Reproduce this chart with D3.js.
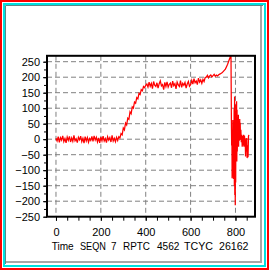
<!DOCTYPE html>
<html>
<head>
<meta charset="utf-8">
<script src="https://cdn.jsdelivr.net/npm/d3@7"></script>
<style>
  html, body { margin: 0; padding: 0; background: #fff; }
  svg { display: block; }
  text { font-family: "Liberation Sans", Arial, sans-serif; }
</style>
</head>
<body>
<svg id="chart" width="269" height="270"></svg>
<script>
// ---------- data ----------
const xMajorTicks = [0, 200, 400, 600, 800];
const yMajorTicks = [-250, -200, -150, -100, -50, 0, 50, 100, 150, 200, 250];
const footerWords = ["Time", "SEQN", "7", "RPTC", "4562", "TCYC", "26162"];

const sampleStep = 5; // regular sampling, values below start at time 0
const baselineValues = [3,-6,8,-10,5,-3,11,-8,2,-12,7,-4,9,-9,4,-7,12,-5,1,-11,6,-2,10,-8,3,-13,8,-6,
  5,-10,2,-4,9,-7,11,-3,6,-9,4,-12,7,-5,10,-6,2,-11,8,-3,5,-9,12,-6,3,-8,6,-4];
const riseValues = [8,4,18,14,36,30,52,46,68,64,88,82,104,100,120,116,134,130,148,144,160,156,170,166,174];
const plateauValues = [178,168,184,171,180,163,186,174,170,182,165,179,188,172,176,160,183,170,185,168,
  177,181,166,187,173,179,162,184,175,170,189,167,180,174,183,165,178,186,171,176,
  190,178,195,182,188,176,197,184,191,180,193,186,199,
  200,206,198,204,207,201,205,209,203,207,204,208,210,
  212,214,218,222,226,234,242,252,262];
const crashTime = [778,780,781,782,783,784,785,786,787,788,789,790,791,792,793,794,795,796,797,798,799,800,
  801,802,804,805,806,807,808,810,812,813,814,815,817,819,820,821,822,824,826,828,830,832,834,836,838,840,
  842,843,845,846,848,850,852,854,856,858,860];
const crashValue = [272,268,155,40,-20,30,-126,10,-120,62,-90,40,-128,55,-60,100,-150,138,-180,90,-213,60,
  -140,110,-30,122,-72,95,-40,70,-10,79,-24,40,-5,65,-2,53,10,30,-10,14,-24,10,-20,14,-24,12,-10,
  4,-56,0,-40,4,-61,-20,-58,10,14];

// ---------- build series ----------
const regular = baselineValues.concat(riseValues, plateauValues);
const series = regular.map((v, i) => [i * sampleStep, v])
  .concat(crashTime.map((t, i) => [t, crashValue[i]]));

// ---------- layout ----------
const svg = d3.select("#chart");
const W = 269, H = 270;
const pLeft = 47, pRight = 255, pTop = 55.8, pBottom = 216.7;

const x = d3.scaleLinear().domain([-40, 887]).range([pLeft, pRight]);
const y = d3.scaleLinear().domain([-250, 269]).range([pBottom, pTop]);

// outer frame
svg.append("rect").attr("x", 1).attr("y", 1).attr("width", W - 2).attr("height", H - 2)
  .attr("fill", "none").attr("stroke", "#ff0000").attr("stroke-width", 2);
svg.append("rect").attr("x", 4).attr("y", 4).attr("width", W - 8).attr("height", H - 8)
  .attr("fill", "none").attr("stroke", "#00e0e0").attr("stroke-width", 2);
svg.append("path").attr("d", `M5.5,${H - 6}V5.5H${W - 6}`)
  .attr("fill", "none").attr("stroke", "#5a8a8a").attr("stroke-width", 1);
svg.append("path").attr("d", `M6,${H - 8}H${W - 8}V6`)
  .attr("fill", "none").attr("stroke", "#a8a8a8").attr("stroke-width", 2);

// grid
const g = svg.append("g");
g.selectAll("line.hg").data(yMajorTicks.filter(v => v > -250)).join("line")
  .attr("x1", pLeft).attr("x2", pRight).attr("y1", d => y(d)).attr("y2", d => y(d))
  .attr("stroke", "#808080").attr("stroke-width", 1).attr("stroke-dasharray", "5,3");
g.selectAll("line.vg").data(xMajorTicks).join("line")
  .attr("x1", d => x(d)).attr("x2", d => x(d)).attr("y1", pTop).attr("y2", pBottom)
  .attr("stroke", "#808080").attr("stroke-width", 1).attr("stroke-dasharray", "5,3");

// data line
svg.append("defs").append("clipPath").attr("id", "clip").append("rect")
  .attr("x", pLeft).attr("y", pTop).attr("width", pRight - pLeft).attr("height", pBottom - pTop);
svg.append("path").datum(series)
  .attr("clip-path", "url(#clip)")
  .attr("fill", "none").attr("stroke", "#ff0000").attr("stroke-width", 1.25)
  .attr("stroke-linejoin", "miter")
  .attr("d", d3.line().x(d => x(d[0])).y(d => y(d[1])));

// axes
const yMinor = d3.range(-250, 251, 25);
const xMinor = d3.range(0, 851, 50);
const yAxisMinor = svg.append("g").attr("transform", `translate(${pLeft},0)`)
  .call(d3.axisLeft(y).tickValues(yMinor).tickSize(3).tickFormat(""));
const yAxis = svg.append("g").attr("transform", `translate(${pLeft},0)`)
  .call(d3.axisLeft(y).tickValues(yMajorTicks).tickSize(4).tickPadding(3));
const xAxisMinor = svg.append("g").attr("transform", `translate(0,${pBottom})`)
  .call(d3.axisBottom(x).tickValues(xMinor).tickSize(4).tickFormat(""));
const xAxis = svg.append("g").attr("transform", `translate(0,${pBottom})`)
  .call(d3.axisBottom(x).tickValues(xMajorTicks).tickSize(4).tickPadding(8));
[yAxisMinor, yAxis, xAxisMinor, xAxis].forEach(a => {
  a.select(".domain").remove();
  a.selectAll("line").attr("stroke", "#000");
  a.selectAll("text").attr("fill", "#000").style("font-size", "11px")
    .style("font-family", '"Liberation Sans", Arial, sans-serif');
});

// plot box
svg.append("rect").attr("x", pLeft).attr("y", pTop).attr("width", pRight - pLeft).attr("height", pBottom - pTop)
  .attr("fill", "none").attr("stroke", "#000").attr("stroke-width", 2);

// footer
const footerX = [51.7, 80, 111, 123, 157, 184, 219];
const footerW = [22, 26, 5.5, 27, 22.5, 29, 29.5];
svg.append("g").selectAll("text").data(footerWords).join("text")
  .attr("x", (d, i) => footerX[i]).attr("y", 250)
  .attr("textLength", (d, i) => footerW[i]).attr("lengthAdjust", "spacingAndGlyphs")
  .attr("font-size", "11px").attr("fill", "#000")
  .text(d => d);
</script>
</body>
</html>
